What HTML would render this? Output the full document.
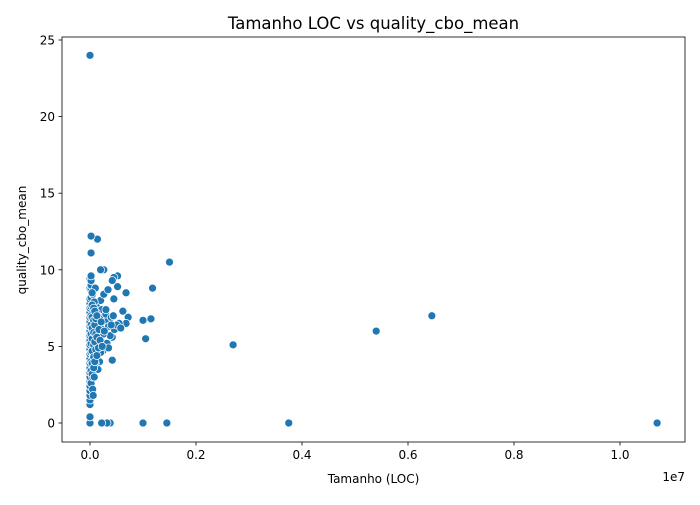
<!DOCTYPE html>
<html><head><meta charset="utf-8"><style>
body{margin:0;background:#fff;}
svg text{font-family:"DejaVu Sans","Liberation Sans",sans-serif;fill:#000;}
</style></head><body>
<svg id="chart" width="700" height="500" viewBox="0 0 700 500" xmlns="http://www.w3.org/2000/svg">
<text x="373.5" y="29" font-size="16.5" text-anchor="middle">Tamanho LOC vs quality_cbo_mean</text>
<g id="plot"></g>
<g id="axes"></g>
<text x="373.5" y="483" font-size="12" text-anchor="middle">Tamanho (LOC)</text>
<text x="685" y="481" font-size="12" text-anchor="end">1e7</text>
<text transform="translate(26,240) rotate(-90)" font-size="12" text-anchor="middle">quality_cbo_mean</text>
</svg>
<script>
// x values in units of 1e6 LOC
const xValues = [10.7,6.45,5.4,3.75,2.7,1.5,1.45,1.18,1.15,1.05,1.0,1.0,0.72,0.68,0.68,0.62,0.55,0.52,0.52,0.45,0.42,0.45,0.42,0.42,0.38,0.32,0.22,0.26,0.2,0.14,0.02,0.02,0.0,
0.0,0.0,0.0,0.0,0.0,0.0,0.0,0.0,0.0,0.0,0.0,0.0,0.0,0.0,0.0,0.0,0.0,0.0,0.0,0.0,0.0,0.0,0.0,0.0,0.0,0.0,0.0,0.0,
0.02,0.02,0.02,0.02,0.02,0.02,0.02,0.02,0.02,0.02,0.02,0.02,0.02,0.02,
0.05,0.06,0.08,0.1,0.1,0.12,0.12,0.14,0.15,0.15,0.16,0.18,0.18,0.2,0.2,0.22,0.22,0.24,0.25,0.26,0.28,0.3,0.3,0.32,0.34,0.35,0.38,0.4,0.44,0.46,0.5,0.58,0.35,0.25,0.15,0.1,0.08,0.12,0.06,0.3,0.2,0.4,0.05,0.1,
0.04,0.04,0.04,0.04,0.04,0.04,0.04,0.04,0.07,0.07,0.07,0.07,0.07,0.07,0.09,0.09,0.09,0.09,0.11,0.11,0.11,0.13,0.13,0.13,0.16,0.17,0.19,0.21,0.23,0.27,0.05,0.06,0.08];
const yValues = [0,7.0,6.0,0,5.1,10.5,0,8.8,6.8,5.5,6.7,0,6.9,8.5,6.5,7.3,6.5,9.6,8.9,9.5,9.3,8.1,5.6,4.1,0,0,0,10,10,12,12.2,11.1,24,
0,0.4,1.2,1.5,1.8,2.1,2.4,2.7,3.0,3.3,3.6,3.9,4.2,4.5,4.8,5.1,5.4,5.7,6.0,6.3,6.6,6.9,7.2,7.5,7.8,8.1,8.8,9.4,
2.6,3.4,4.0,4.6,5.2,5.8,6.4,7.0,7.6,8.2,8.7,9.0,9.3,9.6,
3.0,4.5,3.8,8.8,6.0,7.6,4.2,5.0,3.5,7.0,6.5,5.5,4.0,8.0,6.2,5.3,7.4,4.7,6.8,8.4,5.9,7.1,6.6,5.2,8.7,6.3,5.7,6.9,7.0,6.1,6.4,6.2,4.9,5.8,6.6,5.6,7.9,7.2,4.4,7.4,4.6,6.4,8.4,3.9,
3.2,3.9,4.7,5.5,6.2,6.9,7.7,8.5,3.6,4.3,5.1,5.9,6.7,7.5,4.0,5.3,6.4,7.3,4.8,5.8,6.8,4.4,5.6,7.0,4.9,6.1,5.4,6.6,5.0,6.0,2.2,1.8,3.0];
const X0=90, XPX=53, Y0=423, YPX=15.32;
const xs=v=>X0+v*XPX, ys=v=>Y0-v*YPX;
const NS='http://www.w3.org/2000/svg';
const plot=document.getElementById('plot'), axes=document.getElementById('axes');
for(let i=0;i<xValues.length;i++){
  const c=document.createElementNS(NS,'circle');
  c.setAttribute('cx',xs(xValues[i]));c.setAttribute('cy',ys(yValues[i]));
  c.setAttribute('r',4);c.setAttribute('fill','#1f77b4');c.setAttribute('stroke','#fff');c.setAttribute('stroke-width',0.75);
  
  
  plot.appendChild(c);
}
const frame=document.createElementNS(NS,'rect');
frame.setAttribute('x',62);frame.setAttribute('y',37);frame.setAttribute('width',623);frame.setAttribute('height',405);
frame.setAttribute('fill','none');frame.setAttribute('stroke','#000');frame.setAttribute('stroke-width',0.8);


axes.appendChild(frame);
const xTicks=[0,2,4,6,8,10];
const xTickLabels=['0.0','0.2','0.4','0.6','0.8','1.0'];
const yTicks=[0,5,10,15,20,25];
const yTickLabels=['0','5','10','15','20','25'];
xTicks.forEach((t,i)=>{
  const x=xs(t);
  const l=document.createElementNS(NS,'line');
  l.setAttribute('x1',x);l.setAttribute('x2',x);l.setAttribute('y1',442);l.setAttribute('y2',445.5);l.setAttribute('stroke','#000');l.setAttribute('stroke-width',0.8);
  
  
  axes.appendChild(l);
  const tx=document.createElementNS(NS,'text');
  tx.setAttribute('x',x);tx.setAttribute('y',459);tx.setAttribute('font-size',12);tx.setAttribute('text-anchor','middle');
  tx.textContent=xTickLabels[i];
  
  
  axes.appendChild(tx);
});
yTicks.forEach((t,i)=>{
  const y=ys(t);
  const l=document.createElementNS(NS,'line');
  l.setAttribute('x1',58.5);l.setAttribute('x2',62);l.setAttribute('y1',y);l.setAttribute('y2',y);l.setAttribute('stroke','#000');l.setAttribute('stroke-width',0.8);
  
  
  axes.appendChild(l);
  const tx=document.createElementNS(NS,'text');
  tx.setAttribute('x',55);tx.setAttribute('y',y+4.5);tx.setAttribute('font-size',12);tx.setAttribute('text-anchor','end');
  tx.textContent=yTickLabels[i];
  
  
  axes.appendChild(tx);
});
</script>
</body></html>
